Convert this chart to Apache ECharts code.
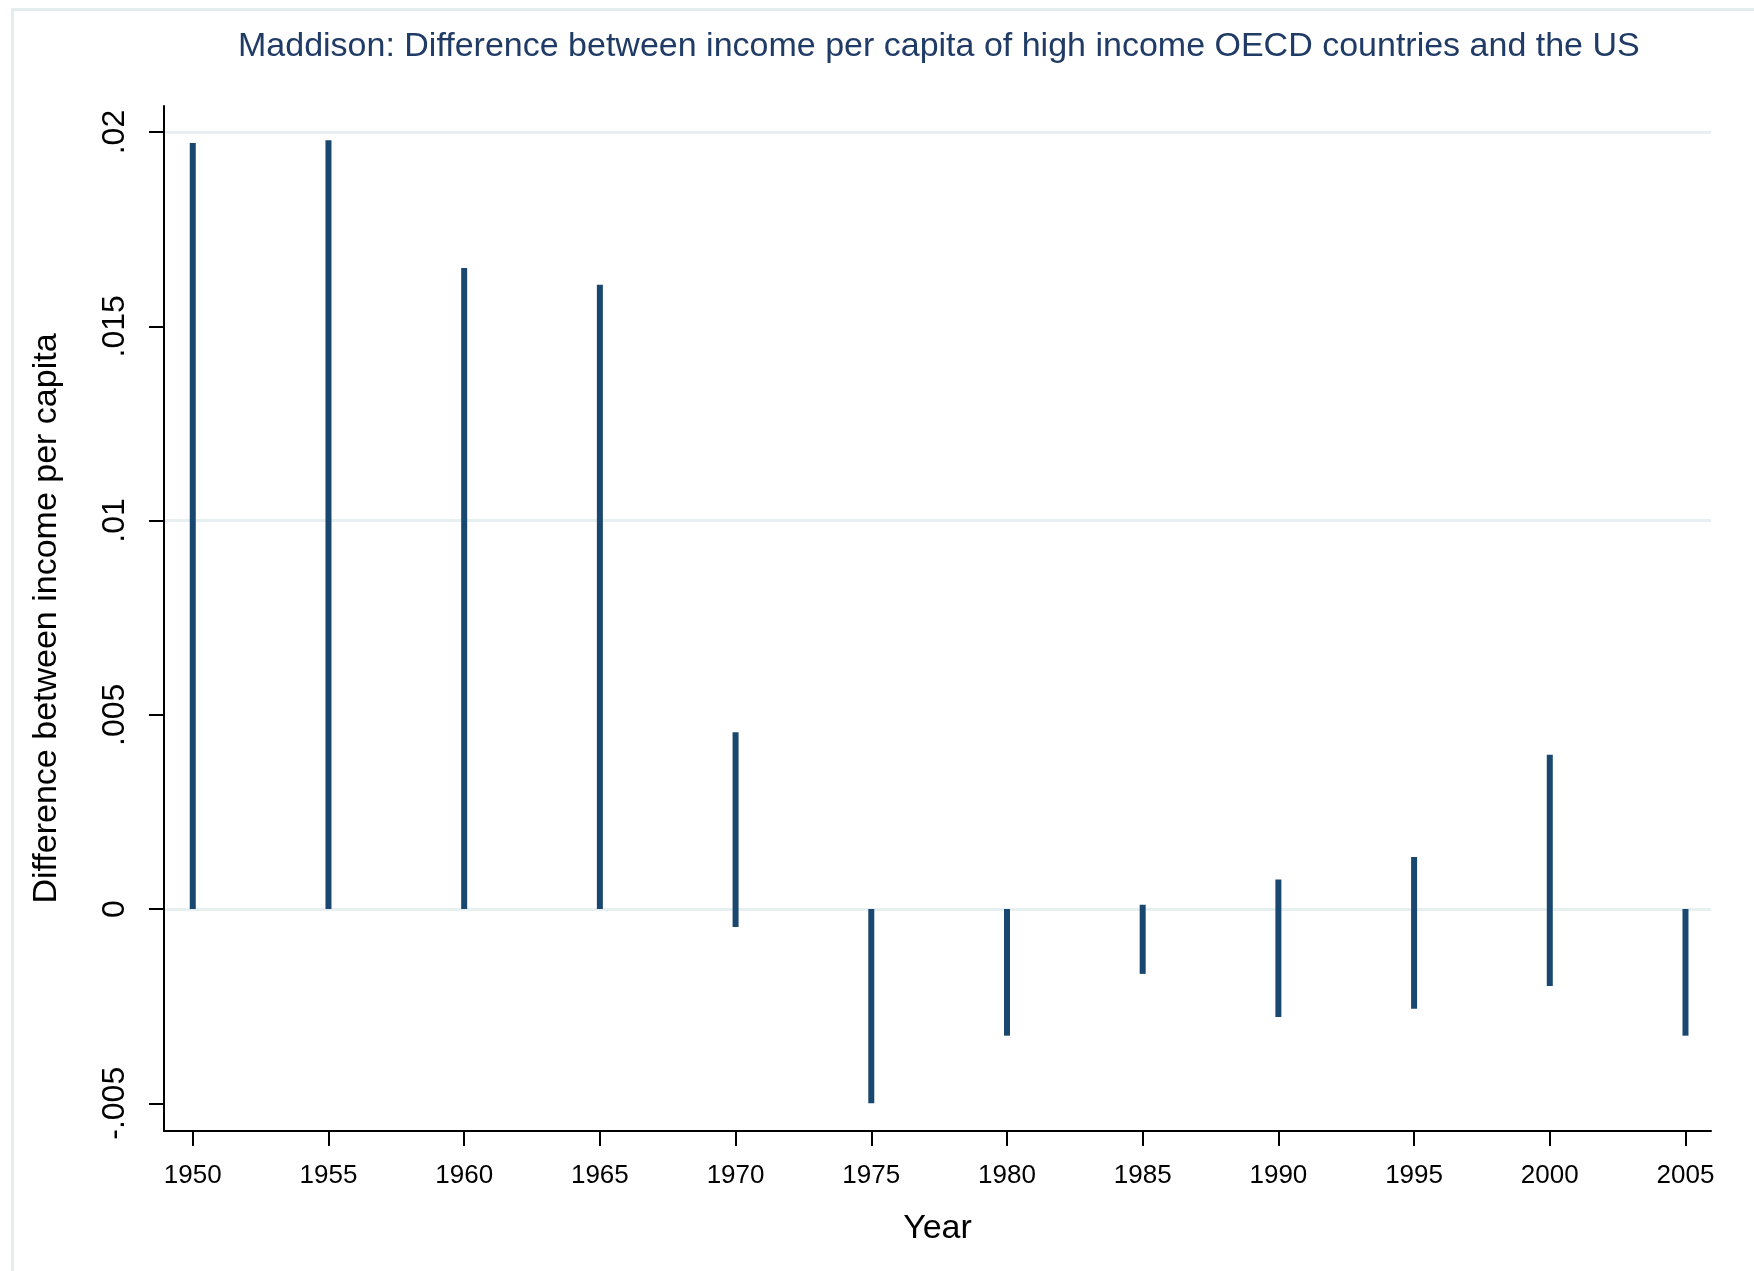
<!DOCTYPE html>
<html>
<head>
<meta charset="utf-8">
<script src="https://cdn.jsdelivr.net/npm/echarts@6/dist/echarts.min.js"></script>
<style>
html,body{margin:0;padding:0;background:#fff;}
#c{width:1754px;height:1271px;}
</style>
</head>
<body>
<div id="c"></div>
<script>
const years = [1950,1955,1960,1965,1970,1975,1980,1985,1990,1995,2000,2005];
const lowValues = [0,0,0,0,-0.00046,-0.005,-0.00326,-0.00167,-0.00278,-0.00257,-0.00198,-0.00326];
const highValues = [0.01972,0.01979,0.0165,0.01607,0.00455,0,0,0.00011,0.00076,0.00134,0.00397,0];
const yTicks = [-0.005,0,0.005,0.01,0.015,0.02];
const yTickLabels = ['-.005','0','.005','.01','.015','.02'];
const xTicks = [1950,1955,1960,1965,1970,1975,1980,1985,1990,1995,2000,2005];

const spikeData = years.map((y,i)=>[y, lowValues[i], highValues[i]]);
const FONT = '"Liberation Sans", Arial, sans-serif';

const chart = echarts.init(document.getElementById('c'), null, {renderer:'canvas'});
chart.setOption({
  animation:false,
  backgroundColor:'#ffffff',
  graphic:[{
    type:'rect', left:10, top:7, silent:true, z:-10,
    shape:{x:0,y:0,width:1900,height:1400},
    style:{fill:'none', stroke:'#e4ecee', lineWidth:3}
  }],
  title:{
    text:'Maddison: Difference between income per capita of high income OECD countries and the US',
    left:238, top:30, padding:0,
    textStyle:{fontFamily:FONT, fontSize:34, fontWeight:'normal', color:'#1f3b66'}
  },
  grid:{left:164, top:106, right:43, bottom:140, containLabel:false},
  xAxis:{
    type:'value', min:1948.94, max:2005.94,
    name:'Year', nameLocation:'middle', nameGap:81,
    nameTextStyle:{fontFamily:FONT, fontSize:34, color:'#000'},
    axisLine:{show:true, onZero:false, lineStyle:{color:'#000', width:2}},
    axisTick:{show:true, length:15, customValues:xTicks, lineStyle:{color:'#000', width:2}},
    axisLabel:{customValues:xTicks, fontFamily:FONT, fontSize:26, color:'#000', margin:32, formatter:v=>String(Math.round(v))},
    splitLine:{show:false}
  },
  yAxis:{
    type:'value', min:-0.005714, max:0.02067,
    name:'Difference between income per capita', nameLocation:'middle', nameGap:100,
    nameRotate:90,
    nameTextStyle:{fontFamily:FONT, fontSize:34, color:'#000'},
    axisLine:{show:true, onZero:false, lineStyle:{color:'#000', width:2}},
    axisTick:{show:true, length:15, customValues:yTicks, lineStyle:{color:'#000', width:2}},
    axisLabel:{customValues:yTicks, rotate:90, fontFamily:FONT, fontSize:32, color:'#000', margin:33,
      formatter:v=>{const i=yTicks.findIndex(t=>Math.abs(t-v)<1e-9); return i>=0?yTickLabels[i]:'';}},
    splitLine:{show:false}
  },
  series:[{
    type:'custom',
    data:spikeData,
    encode:{x:0, y:[1,2]},
    renderItem:function(params, api){
      const x = api.value(0);
      const p1 = api.coord([x, api.value(1)]);
      const p2 = api.coord([x, api.value(2)]);
      return {
        type:'line',
        shape:{x1:p1[0], y1:p1[1], x2:p2[0], y2:p2[1]},
        style:{stroke:'#1a476f', lineWidth:6, lineCap:'butt'}
      };
    },
    markLine:{
      silent:true, symbol:'none', z:-1,
      label:{show:false},
      lineStyle:{color:'#e8eff1', width:3, type:'solid'},
      data:yTicks.map(v=>({yAxis:v}))
    },
    z:5
  }]
});
</script>
</body>
</html>
